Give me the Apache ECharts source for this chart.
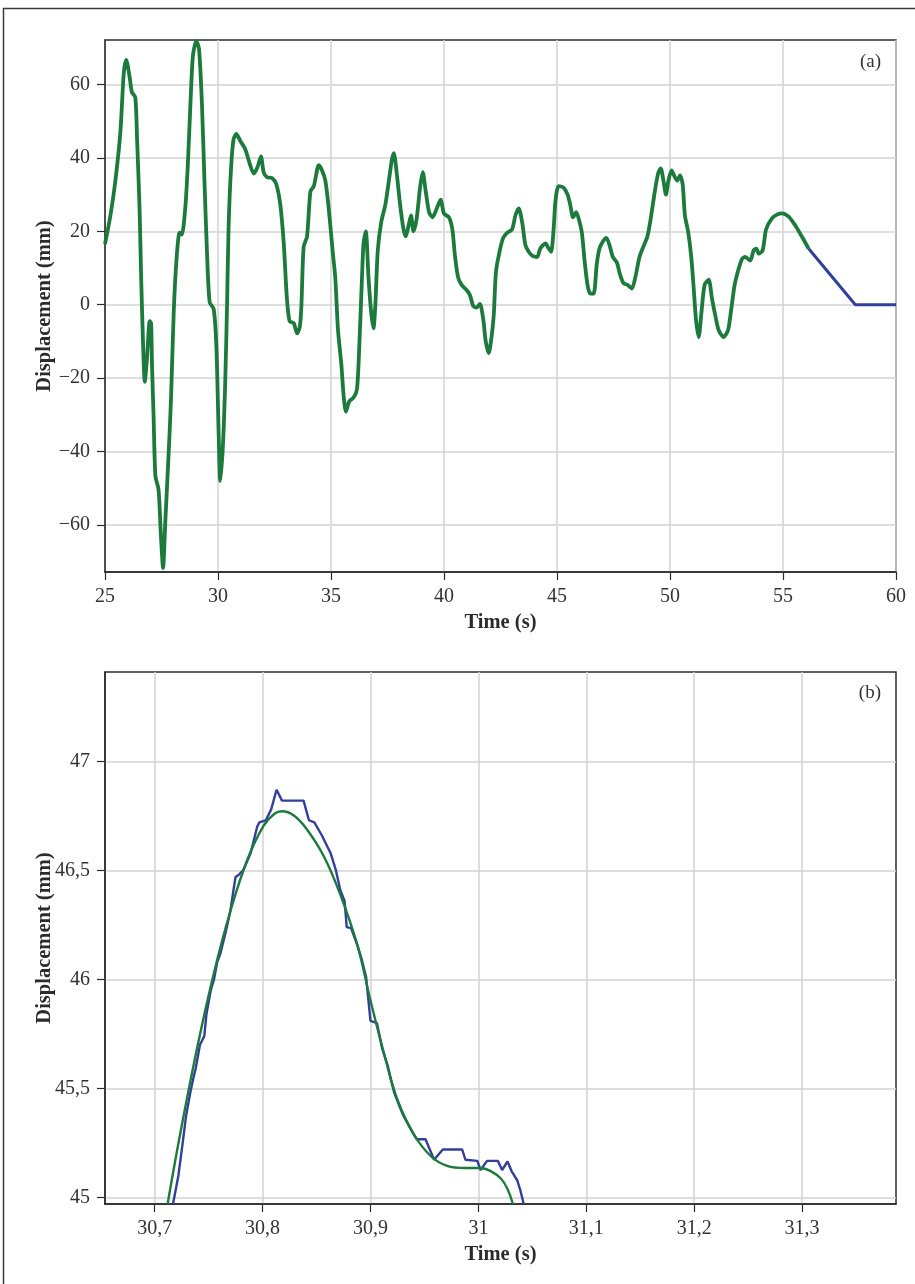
<!DOCTYPE html>
<html>
<head>
<meta charset="utf-8">
<title>Displacement vs time</title>
<script src="https://cdn.jsdelivr.net/npm/echarts@6/dist/echarts.min.js"></script>
<style>
  html, body { margin: 0; padding: 0; background: #ffffff; }
  #chart { width: 915px; height: 1284px; }
</style>
</head>
<body>
<div id="chart"></div>
<script>
// ---- (a) full record, 25–60 s ----
const recTime = [
  25.00, 25.24, 25.46, 25.68, 25.83, 25.94, 26.09, 26.19, 26.34, 26.42,
  26.53, 26.60, 26.68, 26.76, 26.86, 26.98, 27.04, 27.08, 27.15, 27.23,
  27.37, 27.48, 27.57, 27.67, 27.82, 27.92, 28.04, 28.16, 28.30, 28.40,
  28.55, 28.66, 28.78, 28.89, 29.04, 29.16, 29.29, 29.40, 29.51, 29.63,
  29.81, 29.93, 30.03, 30.10, 30.22, 30.32, 30.40, 30.47, 30.58, 30.69,
  30.81, 30.99, 31.21, 31.40, 31.58, 31.75, 31.90, 32.02, 32.17, 32.39,
  32.58, 32.76, 32.91, 33.05, 33.17, 33.35, 33.50, 33.62, 33.69, 33.79,
  33.94, 34.09, 34.24, 34.46, 34.60, 34.75, 34.90, 35.07, 35.19, 35.31,
  35.46, 35.56, 35.66, 35.81, 36.00, 36.15, 36.25, 36.37, 36.44, 36.54,
  36.66, 36.78, 36.88, 36.96, 37.07, 37.22, 37.40, 37.54, 37.69, 37.78,
  37.91, 38.06, 38.21, 38.31, 38.43, 38.54, 38.65, 38.79, 38.94, 39.06,
  39.19, 39.34, 39.49, 39.68, 39.85, 40.00, 40.22, 40.37, 40.49, 40.63,
  40.78, 41.00, 41.15, 41.29, 41.44, 41.59, 41.74, 41.84, 41.98, 42.10,
  42.20, 42.30, 42.47, 42.62, 42.79, 43.01, 43.16, 43.31, 43.46, 43.60,
  43.75, 43.90, 44.12, 44.26, 44.49, 44.63, 44.74, 44.85, 44.93, 45.07,
  45.29, 45.47, 45.59, 45.71, 45.85, 45.96, 46.10, 46.22, 46.35, 46.47,
  46.62, 46.76, 46.88, 47.03, 47.18, 47.32, 47.47, 47.65, 47.79, 47.94,
  48.12, 48.31, 48.46, 48.65, 48.82, 49.00, 49.12, 49.26, 49.38, 49.49,
  49.59, 49.71, 49.82, 49.93, 50.07, 50.22, 50.32, 50.44, 50.56, 50.66,
  50.81, 50.94, 51.05, 51.15, 51.27, 51.39, 51.53, 51.71, 51.86, 52.01,
  52.15, 52.37, 52.57, 52.71, 52.86, 53.01, 53.19, 53.33, 53.55, 53.70,
  53.82, 53.92, 54.10, 54.25, 54.51, 54.75, 54.95, 55.25, 55.55, 55.84,
  56.13
];
const recDisp = [
  16.5, 24.3, 33.8, 47.0, 63.0, 66.7, 62.0, 57.9, 56.5, 45.0,
  26.0, 7.3, -9.7, -21.0, -14.5, -4.5, -5.0, -16.4, -30.5, -46.6,
  -50.4, -63.6, -71.7, -58.9, -40.0, -25.8, -2.2, 12.0, 19.6, 19.1,
  26.2, 37.5, 54.6, 67.8, 71.8, 69.7, 54.6, 33.8, 14.8, 0.7,
  -1.2, -11.6, -35.3, -48.0, -38.1, -21.0, -0.3, 21.5, 37.5, 45.1,
  46.5, 44.6, 42.3, 38.5, 35.7, 37.5, 40.4, 36.1, 34.7, 34.5,
  32.8, 27.1, 16.7, 1.6, -4.5, -5.0, -7.8, -6.0, -0.3, 15.8,
  18.6, 30.9, 32.3, 38.0, 36.6, 33.8, 26.2, 14.8, 7.3, -6.9,
  -16.4, -24.9, -29.1, -26.3, -25.3, -23.0, -11.6, 7.3, 16.7, 20.0,
  7.3, -2.2, -6.4, -0.3, 14.8, 22.4, 27.1, 32.8, 39.4, 41.3,
  35.7, 27.1, 20.5, 18.6, 21.5, 24.3, 20.0, 23.4, 31.9, 36.1,
  30.9, 25.2, 23.8, 26.2, 28.6, 24.8, 23.8, 20.5, 13.0, 7.3,
  5.4, 4.0, 2.6, -0.3, -0.8, 0.2, -4.1, -9.7, -13.2, -9.0,
  -3.0, 9.0, 14.8, 18.2, 19.6, 20.5, 24.3, 26.2, 22.4, 16.3,
  14.4, 13.4, 13.0, 15.3, 16.7, 15.3, 14.4, 20.5, 28.1, 32.3,
  31.9, 30.0, 27.1, 23.8, 25.2, 23.4, 19.6, 12.0, 5.4, 3.0,
  3.0, 11.1, 15.3, 17.2, 18.2, 16.3, 13.0, 11.5, 8.2, 5.9,
  5.4, 4.4, 7.3, 13.0, 15.8, 18.6, 22.4, 28.1, 32.8, 36.1,
  37.1, 33.8, 30.0, 33.8, 36.6, 34.7, 33.8, 35.2, 32.8, 24.3,
  19.6, 13.0, 4.4, -4.1, -8.8, -2.2, 5.4, 6.8, 1.6, -3.1,
  -6.9, -8.8, -6.9, -1.2, 5.4, 9.2, 12.5, 13.0, 12.0, 14.8,
  15.3, 13.9, 14.8, 20.5, 23.5, 24.6, 24.9, 24.0, 21.5, 18.5,
  15.3
];
// tail of the raw signal after the filtered trace stops
const tailTime = [56.13, 58.20, 60.00];
const tailDisp = [15.3, 0.0, 0.0];

const recXTicks = [25, 30, 35, 40, 45, 50, 55, 60];
const recYTicks = [-60, -40, -20, 0, 20, 40, 60];

// ---- (b) close-up of the peak near 30.8 s ----
const rawTime = [
  30.717, 30.722, 30.726, 30.729, 30.733, 30.736, 30.738, 30.742, 30.744, 30.746,
  30.748, 30.752, 30.755, 30.758, 30.761, 30.766, 30.770, 30.774, 30.775, 30.778,
  30.782, 30.789, 30.795, 30.797, 30.803, 30.808, 30.813, 30.818, 30.838, 30.843,
  30.848, 30.855, 30.863, 30.868, 30.872, 30.876, 30.878, 30.882, 30.888, 30.892,
  30.896, 30.900, 30.906, 30.911, 30.916, 30.919, 30.922, 30.930, 30.940, 30.943,
  30.951, 30.959, 30.967, 30.985, 30.988, 30.999, 31.002, 31.008, 31.018, 31.022,
  31.027, 31.031, 31.036, 31.039, 31.042
];
const rawDisp = [
  44.97, 45.10, 45.25, 45.37, 45.48, 45.55, 45.59, 45.70, 45.72, 45.74,
  45.84, 45.95, 46.00, 46.08, 46.12, 46.22, 46.31, 46.44, 46.47, 46.48,
  46.50, 46.58, 46.70, 46.72, 46.73, 46.78, 46.87, 46.82, 46.82, 46.73,
  46.72, 46.66, 46.58, 46.50, 46.41, 46.36, 46.24, 46.235, 46.155, 46.09,
  46.01, 45.81, 45.80, 45.68, 45.605, 45.54, 45.48, 45.38, 45.29, 45.267,
  45.267, 45.173, 45.22, 45.22, 45.173, 45.168, 45.126, 45.168, 45.168, 45.126,
  45.165, 45.118, 45.079, 45.031, 44.97
];
const fitTime = [
  30.712, 30.724, 30.740, 30.755, 30.770, 30.786, 30.801, 30.811, 30.818, 30.829,
  30.841, 30.857, 30.872, 30.888, 30.900, 30.913, 30.925, 30.940, 30.956, 30.971,
  30.987, 31.002, 31.011, 31.021, 31.027, 31.032
];
const fitDisp = [
  44.97, 45.30, 45.70, 46.03, 46.31, 46.55, 46.705, 46.76, 46.771, 46.752,
  46.689, 46.563, 46.39, 46.155, 45.903, 45.652, 45.448, 45.291, 45.189, 45.145,
  45.135, 45.135, 45.122, 45.086, 45.039, 44.97
];

const zoomXTicks = [30.7, 30.8, 30.9, 31.0, 31.1, 31.2, 31.3];
const zoomYTicks = [45, 45.5, 46, 46.5, 47];

const zip = (xs, ys) => xs.map((x, i) => [x, ys[i]]);

const GREEN = '#1c7a3d';
const BLUE = '#333f9c';
const INK = '#2b2b2b';
const GRID = '#d3d3d3';
const SERIF = '"Liberation Serif", "DejaVu Serif", serif';

const minusFmt = v => (v < 0 ? '\u2212' + Math.abs(v) : String(v));
const commaFmt = v => String(+v.toFixed(2)).replace('.', ',');

const labelStyle = { fontFamily: SERIF, fontSize: 20, color: '#333', margin: 15 };
const tickStyle = { show: true, length: 8, lineStyle: { color: INK, width: 1.2 } };

function valueAxis(opts, ticks, fmt) {
  return Object.assign({
    type: 'value',
    nameLocation: 'middle',
    nameMoveOverlap: false,
    nameTextStyle: { fontFamily: SERIF, fontWeight: 'bold', fontSize: 20.5, color: INK },
    axisLine: { show: true, onZero: false, lineStyle: { color: INK, width: 1.5 } },
    axisTick: Object.assign({ customValues: ticks }, tickStyle),
    axisLabel: Object.assign({ customValues: ticks, formatter: fmt }, labelStyle),
    splitLine: { show: true, lineStyle: { color: GRID, width: 1.5 } }
  }, opts);
}

const chart = echarts.init(document.getElementById('chart'), null, { renderer: 'canvas' });

chart.setOption({
  animation: false,
  backgroundColor: '#ffffff',
  grid: [
    { left: 105, top: 40, width: 791, height: 532, show: true, borderColor: INK, borderWidth: 1.5, backgroundColor: 'transparent' },
    { left: 105, top: 672, width: 791, height: 532, show: true, borderColor: INK, borderWidth: 1.5, backgroundColor: 'transparent' }
  ],
  xAxis: [
    valueAxis({ gridIndex: 0, min: 25, max: 60, interval: 5, name: 'Time (s)', nameGap: 40 },
      recXTicks, v => String(v)),
    valueAxis({ gridIndex: 1, min: 30.654, max: 31.387, minInterval: 0.1, maxInterval: 0.1, name: 'Time (s)', nameGap: 40 },
      zoomXTicks, commaFmt)
  ],
  yAxis: [
    valueAxis({ gridIndex: 0, min: -72.8, max: 72.1, minInterval: 20, maxInterval: 20, name: 'Displacement (mm)', nameGap: 50 },
      recYTicks, minusFmt),
    valueAxis({ gridIndex: 1, min: 44.97, max: 47.41, minInterval: 0.5, maxInterval: 0.5, name: 'Displacement (mm)', nameGap: 50 },
      zoomYTicks, commaFmt)
  ],
  series: [
    {
      type: 'line', xAxisIndex: 0, yAxisIndex: 0,
      data: zip(tailTime, tailDisp),
      showSymbol: false, lineStyle: { color: BLUE, width: 3 }, z: 2
    },
    {
      type: 'line', xAxisIndex: 0, yAxisIndex: 0,
      data: zip(recTime, recDisp),
      showSymbol: false, smooth: 0.25,
      lineStyle: { color: GREEN, width: 3.8, join: 'round' }, z: 3
    },
    {
      type: 'line', xAxisIndex: 1, yAxisIndex: 1,
      data: zip(rawTime, rawDisp),
      showSymbol: false, lineStyle: { color: BLUE, width: 2.4 }, z: 2
    },
    {
      type: 'line', xAxisIndex: 1, yAxisIndex: 1,
      data: zip(fitTime, fitDisp),
      showSymbol: false, smooth: 0.4,
      lineStyle: { color: GREEN, width: 2.4 }, z: 3
    }
  ],
  graphic: [
    {
      type: 'rect', silent: true, z: 100,
      shape: { x: 3.5, y: 8.5, width: 1000, height: 1400 },
      style: { fill: 'none', stroke: '#3a3a3a', lineWidth: 1.5 }
    },
    {
      type: 'text', silent: true, z: 100, x: 881, y: 62,
      style: { text: '(a)', font: '19px ' + SERIF, fill: '#333', textAlign: 'right', textVerticalAlign: 'middle' }
    },
    {
      type: 'text', silent: true, z: 100, x: 881, y: 693,
      style: { text: '(b)', font: '19px ' + SERIF, fill: '#333', textAlign: 'right', textVerticalAlign: 'middle' }
    }
  ]
});
</script>
</body>
</html>
